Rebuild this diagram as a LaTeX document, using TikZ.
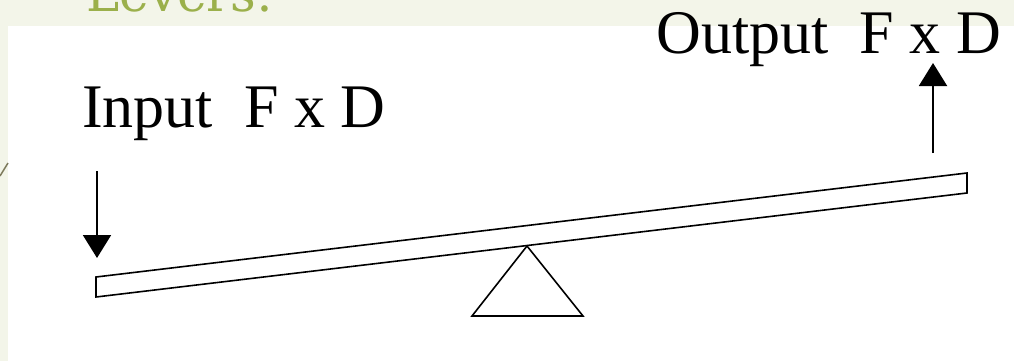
\documentclass[tikz,border=0pt]{standalone}
\usepackage{fontspec}
\setmainfont{Liberation Serif}
\newfontfamily\titlefont{DejaVu Serif}
\usetikzlibrary{arrows.meta}
\definecolor{pagebg}{HTML}{F3F5E9}
\definecolor{titlegreen}{HTML}{9BB04B}
\definecolor{olive}{HTML}{7D7A5C}
\tikzset{
  bigtext/.style={inner sep=0pt, font=\fontsize{62}{70}\selectfont},
  forcearrow/.style={line width=2pt, -{Triangle[width=28pt,length=23pt]}},
  beamline/.style={line width=1.6pt, line join=miter},
}
\begin{document}
\begin{tikzpicture}[x=1pt,y=-1pt]
\useasboundingbox (0,0) rectangle (1014,361);
\clip (0,0) rectangle (1014,361);
% page background
\fill[pagebg] (0,0) rectangle (1014,361);
\fill[white] (8,26) rectangle (1014,361);
% title (mostly cut off)
\node[anchor=base west, inner sep=0pt, text=titlegreen, font=\titlefont\fontsize{50}{60}\selectfont] (title) at (86,12) {Levers:};
% decorative line
\draw[olive, line width=1.5pt] (0,176) -- (8,163);
% labels
\node[bigtext, anchor=base west] (input) at (82,127) {Input\ \ F x D};
\node[bigtext, anchor=base east] (output) at (1001,53) {Output\ \ F x D};
% beam
\coordinate (btl) at (96,277);
\coordinate (btr) at (967,173);
\coordinate (bbr) at (967,193);
\coordinate (bbl) at (96,297);
\draw[beamline] (btl) -- (btr) -- (bbr) -- (bbl) -- cycle;
% fulcrum
\coordinate (apex) at (527,246);
\draw[line width=1.6pt, line join=miter] (apex) -- (583,316) -- (472,316) -- cycle;
% force arrows
\coordinate (inTop) at (97,171);
\coordinate (inTip) at (97,258);
\draw[forcearrow] (inTop) -- (inTip);
\coordinate (outBot) at (933,153);
\coordinate (outTip) at (933,63);
\draw[forcearrow] (outBot) -- (outTip);
\end{tikzpicture}
\end{document}
